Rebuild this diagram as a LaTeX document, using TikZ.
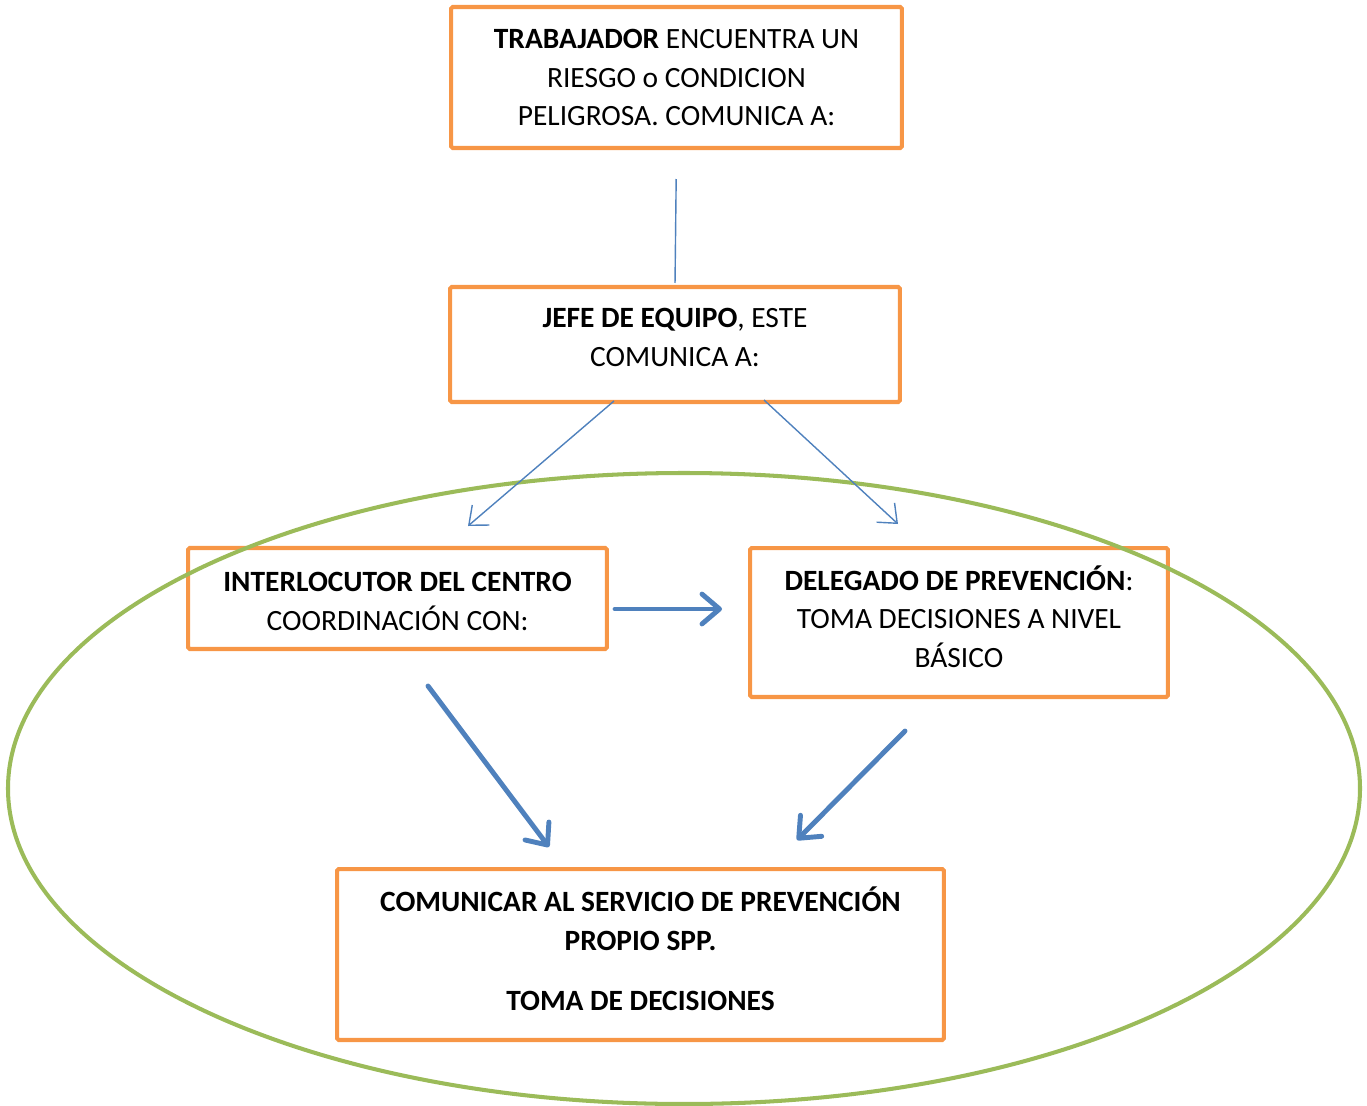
\documentclass[tikz,border=0pt]{standalone}
\usepackage{fontspec}
\setmainfont{Carlito}
\usetikzlibrary{arrows.meta,positioning}
\definecolor{boxorange}{HTML}{F79646}
\definecolor{ovalgreen}{HTML}{9BBB59}
\definecolor{arrowblue}{HTML}{4F81BD}
\newcommand{\extradepth}[1]{\rule[-#1]{0pt}{#1}}
\tikzset{
    mynode/.style={rectangle, rounded corners=1pt, draw=boxorange, line width=2.3pt, align=center, inner sep=0pt},
    thinarrow/.style={-{Straight Barb[length=9pt, width=15pt, line width=0.8pt]}, draw=arrowblue, line width=0.8pt},
    thickarrow/.style={-{Straight Barb[length=10pt, width=17pt, line width=2.8pt, round]}, draw=arrowblue, line width=2.8pt, line cap=round},
    myoval/.style={draw=ovalgreen, line width=2.3pt}
}

\begin{document}
\begin{tikzpicture}[x=0.02cm, y=-0.02cm]
\fontsize{16.75}{22.1}\selectfont
\useasboundingbox (0,0) rectangle (1367,1106);

\node[mynode, minimum width=9.02cm, minimum height=2.82cm] (trabajador) at (676.5,77.5) {\textbf{TRABAJADOR} ENCUENTRA UN\\RIESGO o CONDICION\\PELIGROSA. COMUNICA A:};
\node[mynode, minimum width=9cm, minimum height=2.3cm] (jefe) at (675,344.5) {\textbf{JEFE DE EQUIPO}, ESTE\\COMUNICA A:\extradepth{0.28cm}};
\node[mynode, minimum width=8.38cm, minimum height=2.02cm] (interlocutor) at (397.5,598.5) {\rule{0pt}{0.5cm}\textbf{INTERLOCUTOR DEL CENTRO}\\COORDINACIÓN CON:};
\node[mynode, minimum width=8.36cm, minimum height=2.98cm] (delegado) at (959,622.5) {\textbf{DELEGADO DE PREVENCIÓN}:\\TOMA DECISIONES A NIVEL\\BÁSICO\extradepth{0.24cm}};
\node[mynode, minimum width=12.14cm, minimum height=3.42cm] (comunicar) at (640.5,954.5) {\textbf{COMUNICAR AL SERVICIO DE PREVENCIÓN}\\\textbf{PROPIO SPP.}\\[0.42cm]\textbf{TOMA DE DECISIONES}\extradepth{0.24cm}};

% zona comun
\draw[myoval] (684,788.5) ellipse [x radius=676, y radius=315.5];

% extremos libres de las flechas
\coordinate (j1) at (614,401);
\coordinate (i1) at (468,526);
\coordinate (j2) at (764,400);
\coordinate (d1) at (898,524);
\coordinate (i2) at (615,609);
\coordinate (d2) at (722,609);
\coordinate (i3) at (428,686);
\coordinate (c1) at (549,847);
\coordinate (d3) at (905,731);
\coordinate (c2) at (797,840);

\draw[draw=arrowblue, line width=0.8pt, shorten <=0.58cm, shorten >=0.04cm] (trabajador.south) -- (jefe.north);
\draw[thinarrow] (j1) -- (i1);
\draw[thinarrow] (j2) -- (d1);
\draw[thickarrow] (i2) -- (d2);
\draw[thickarrow] (i3) -- (c1);
\draw[thickarrow] (d3) -- (c2);

\end{tikzpicture}
\end{document}
